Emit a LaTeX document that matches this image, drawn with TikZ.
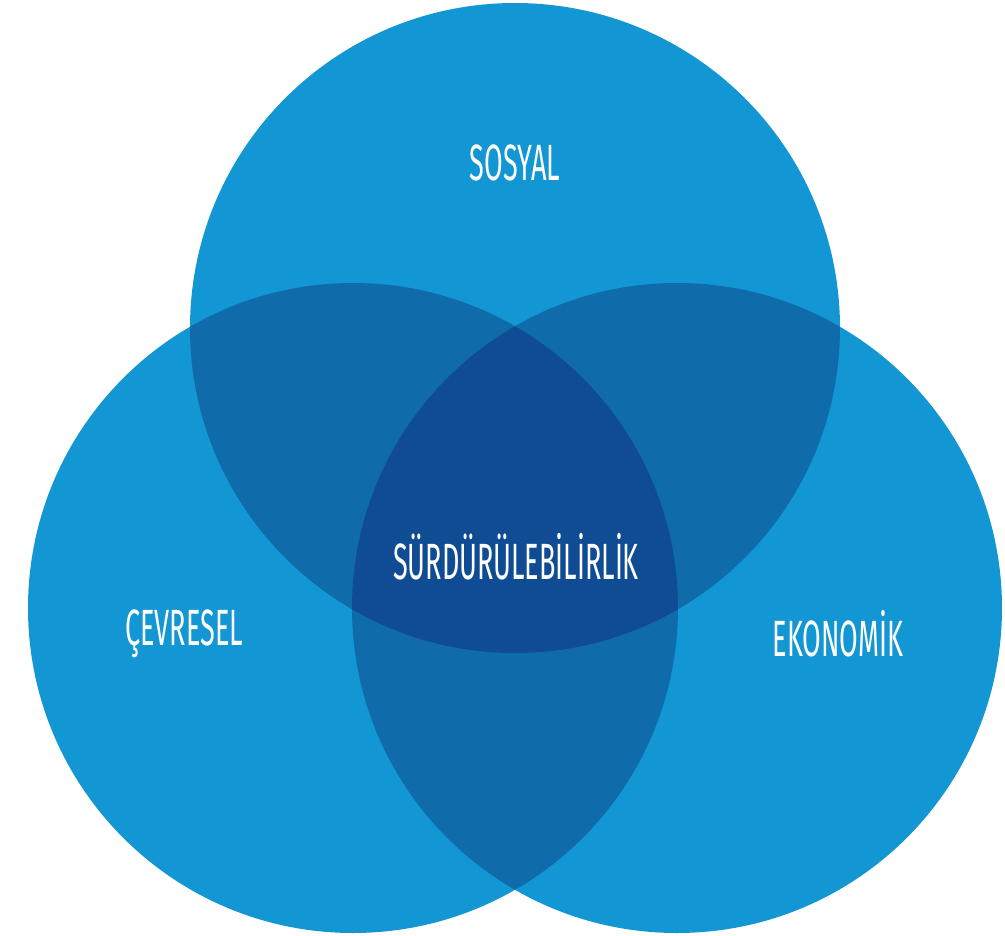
\documentclass[tikz,border=0pt]{standalone}
\usepackage{fontspec}
\setmainfont{Fira Sans}
\usepackage{tikz}
\usetikzlibrary{positioning}

\definecolor{tekmavi}{HTML}{1296D4}
\definecolor{ikimavi}{HTML}{0F6BAA}
\definecolor{ucmavi}{HTML}{0F4C94}

\begin{document}
\begin{tikzpicture}[x=0.01cm, y=-0.01cm,
    etiket/.style={text=white, font=\fontsize{14.5}{16}\selectfont, xscale=0.53, inner sep=0pt}]
        \useasboundingbox (0,0) rectangle (1005,936);
        \coordinate (csos) at (515,328);
        \coordinate (ccev) at (353,608);
        \coordinate (ceko) at (677,608);
        \def\yaricap{325}

        % tek daireler
        \fill[tekmavi] (csos) circle (\yaricap);
        \fill[tekmavi] (ccev) circle (\yaricap);
        \fill[tekmavi] (ceko) circle (\yaricap);

        % ikili kesisimler
        \begin{scope}
            \clip (csos) circle (\yaricap);
            \fill[ikimavi] (ccev) circle (\yaricap);
            \fill[ikimavi] (ceko) circle (\yaricap);
        \end{scope}
        \begin{scope}
            \clip (ccev) circle (\yaricap);
            \fill[ikimavi] (ceko) circle (\yaricap);
        \end{scope}

        % uclu kesisim
        \begin{scope}
            \clip (csos) circle (\yaricap);
            \clip (ccev) circle (\yaricap);
            \fill[ucmavi] (ceko) circle (\yaricap);
        \end{scope}

        \node[etiket] (sosyal) at (515,163) {SOSYAL};
        \node[etiket] (surdur) at (516,557) {SÜRDÜRÜLEBİLİRLİK};
        \node[etiket] (cevre) at (184,634) {ÇEVRESEL};
        \node[etiket] (ekonomi) at (838,634) {EKONOMİK};
\end{tikzpicture}
\end{document}
